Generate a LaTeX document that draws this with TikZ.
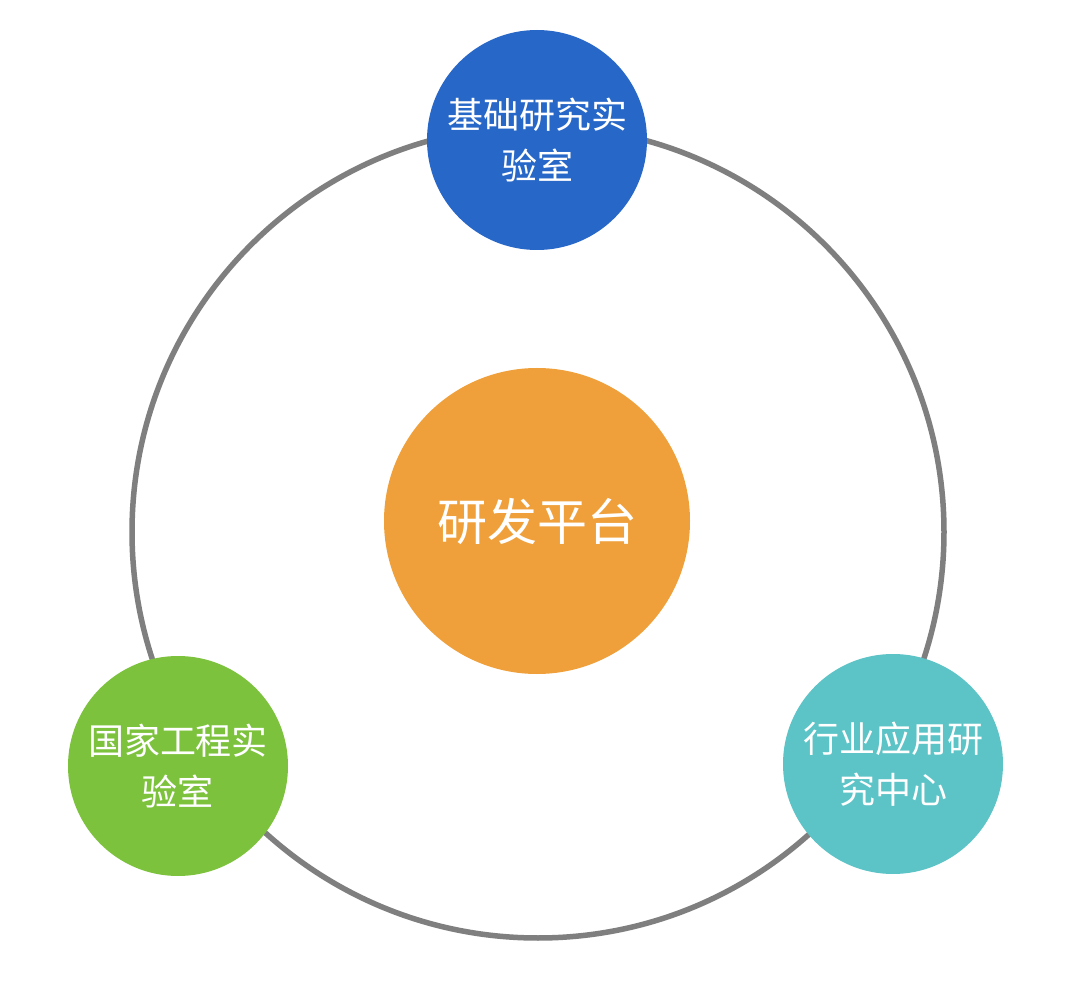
\documentclass[tikz,border=0pt]{standalone}
\usepackage{fontspec}
\newfontfamily\cjk{Noto Sans CJK SC}
\definecolor{ringgrey}{HTML}{7F7F80}
\definecolor{cblue}{HTML}{2767C8}
\definecolor{cgreen}{HTML}{7DC23C}
\definecolor{cteal}{HTML}{5CC3C6}
\definecolor{corange}{HTML}{F0A03A}
\begin{document}
\begin{tikzpicture}[x=1pt,y=-1pt,
  bubble/.style={circle,inner sep=0pt,minimum size=220pt,text=white,align=center,
    font={\cjk\fontsize{36}{51}\selectfont}},
  hub/.style={circle,inner sep=0pt,minimum size=306pt,fill=corange,text=white,
    font={\cjk\fontsize{50}{56}\selectfont}}]
\useasboundingbox[fill=white] (0,0) rectangle (1080,981);
\coordinate (c) at (538,532);
\draw[ringgrey,line width=5.5pt] (c) circle[radius=406pt];
\node[hub] (hub) at (537,521) {研发平台};
\node[bubble,fill=cblue] (top) at (537,140) {基础研究实\\验室};
\node[bubble,fill=cgreen] (left) at (178,766) {国家工程实\\验室};
\node[bubble,fill=cteal] (right) at (893,764) {行业应用研\\究中心};
\end{tikzpicture}
\end{document}
